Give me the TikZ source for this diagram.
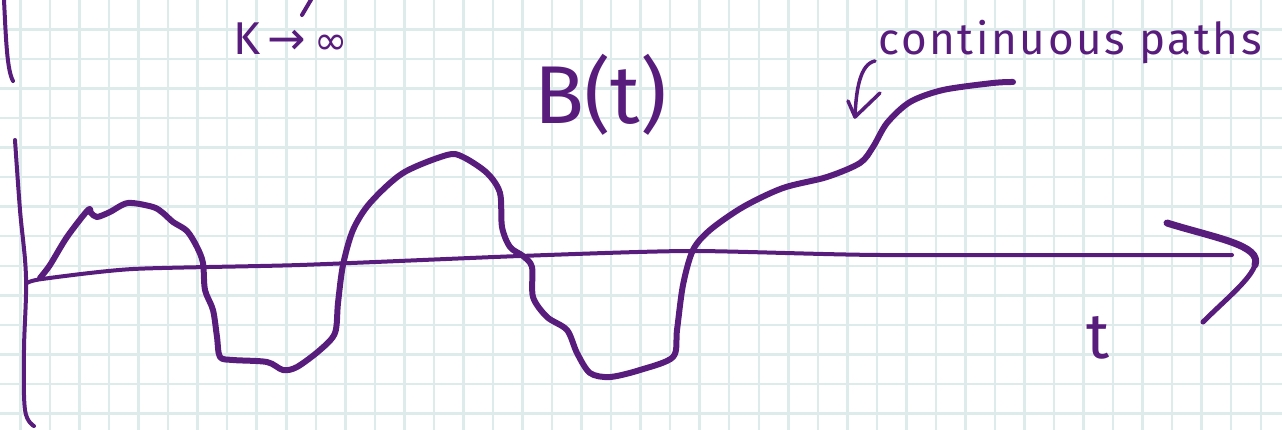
\documentclass[tikz,border=0pt]{standalone}
\usepackage{fontspec}
\setmainfont{Fira Sans}
\newfontfamily\symfont{DejaVu Sans}
\usetikzlibrary{positioning}
\definecolor{penpurple}{HTML}{581C7C}
\definecolor{gridcyan}{HTML}{DDEBEB}

\begin{document}
\begin{tikzpicture}[
  x=1pt, y=-1pt,
  gridline/.style={line width=2.5pt, gridcyan},
  pen/.style={line width=4pt, penpurple, line cap=round, line join=round},
  thickpen/.style={pen, line width=6pt},
  hand/.style={text=penpurple, inner sep=0pt},
]
\useasboundingbox (0,0) rectangle (1282,430);
\fill[white] (0,0) rectangle (1282,430);

% squared paper
\foreach \i in {0,...,43}
  \draw[gridline] ({20.5+29.53*\i},0) -- ++(0,430);
\foreach \j in {1,...,14}
  \draw[gridline] (0,{29.53*\j}) -- ++(1282,0);

% labels
\node[hand, anchor=base west, font=\fontsize{46}{46}\selectfont] (klim) at (233,55)
  {K\,{\symfont →}\,{\symfont\fontsize{40}{40}\selectfont ∞}};
\node[hand, anchor=base west, font=\fontsize{82}{82}\selectfont] (bt) at (534,124) {B(t)};
\node[hand, anchor=base west, font=\fontsize{44}{44}\selectfont\addfontfeatures{LetterSpace=6}] (cont) at (878,55)
  {continuous paths};
\node[hand, font=\fontsize{64}{64}\selectfont] (tlab) at (1098,338) {t};

% stray strokes at the top
\draw[pen] (4,0) .. controls (6,40) and (7,70) .. (13,81);
\draw[pen] (312,-2) -- (302,15);

% vertical axis
\draw[pen] plot[smooth, tension=0.6] coordinates
  {(15,140) (20,210) (26,277) (24,350) (25,410) (34,426)};

% time axis with hand-drawn head
\draw[pen] plot[smooth, tension=0.4] coordinates
  {(27,283) (42,279) (133,269) (300,265) (520,256) (690,251) (880,255) (1232,255)};
\draw[pen, line width=7pt] (1167,223) .. controls (1215,238) and (1262,245) .. (1255,265);
\draw[pen, line width=5pt] (1255,265) .. controls (1250,280) and (1225,300) .. (1203,322);

% the path B(t)
\draw[thickpen] plot[smooth, tension=0.5] coordinates
  {(40,278) (50,265) (67,237) (88,210) (91,213) (97,217) (110,212) (128,203)
   (153,207) (163,213) (173,222) (187,231) (197,247) (203,263) (205,290)
   (213,310) (217,337) (220,357) (233,360) (267,362) (283,370) (297,367)
   (320,350) (335,333) (338,303) (343,265) (353,230) (370,203) (403,173)
   (447,155) (463,157) (487,173) (500,193) (502,227) (510,247) (523,256)
   (532,267) (533,297) (547,317) (567,330) (577,353) (590,373) (610,377)
   (640,370) (673,357) (677,330) (683,285) (693,250) (710,230) (743,207)
   (783,188) (827,177) (860,163) (873,147) (887,123) (910,102) (943,90)
   (993,83) (1013,82)};

% pointer from the label down to the path
\coordinate (arrtip) at (855,117);
\draw[pen, line width=3.5pt] ([shift={(-3,6)}]cont.base west) .. controls (860,64) and (856,90) .. (arrtip);
\draw[pen, line width=3.5pt] (848,101) -- (arrtip) -- (880,93);

\end{tikzpicture}
\end{document}
